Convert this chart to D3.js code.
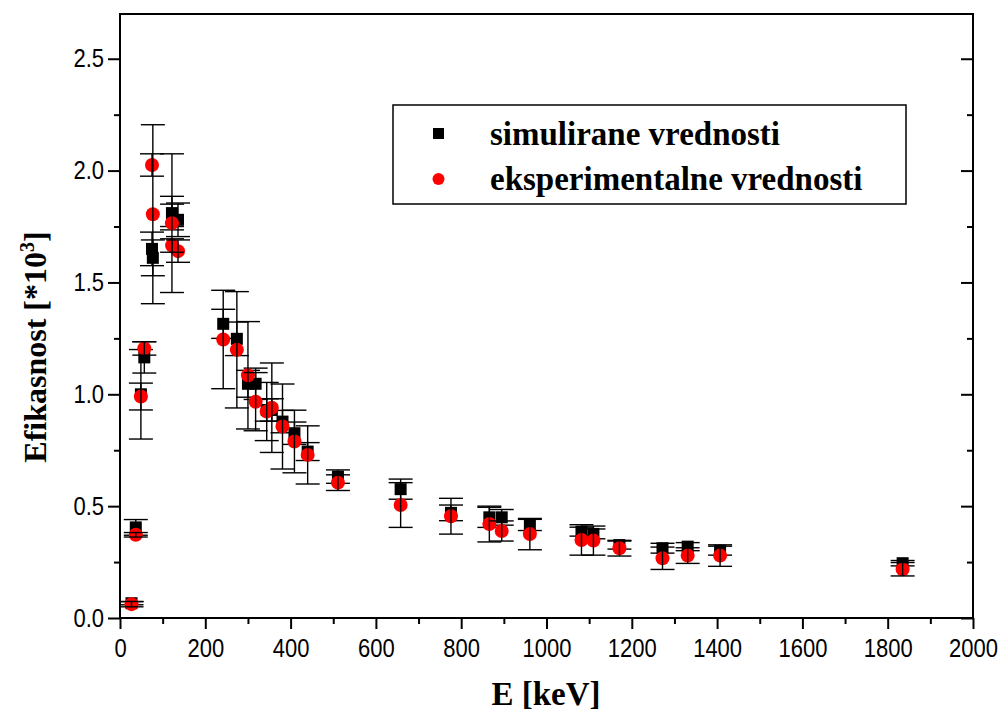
<!DOCTYPE html>
<html>
<head>
<meta charset="utf-8">
<script src="https://cdn.jsdelivr.net/npm/d3@7"></script>
<style>
  html, body { margin: 0; padding: 0; background: #fff; }
  svg { display: block; }
  .tick-label { font-family: "Liberation Sans", Arial, sans-serif; }
  .title { font-family: "Liberation Serif", "Times New Roman", serif; font-weight: bold; }
</style>
</head>
<body>
<svg id="chart" width="1002" height="711"></svg>
<script>
// Gamma line energies (keV)
const energies = [27, 37, 49, 57, 75, 77, 121.8, 122.1, 136, 242, 274, 300, 318, 344, 356,
  381, 409, 440, 511, 658, 776, 866, 895, 961, 1082, 1110, 1171, 1272, 1331, 1407, 1835];

// Simulated efficiency (*10^3) and its uncertainty
const simulated = [0.066, 0.405, 1.00, 1.165, 1.65, 1.61, 1.81, 1.80, 1.78, 1.315, 1.248, 1.047, 1.047,
  0.93, 0.93, 0.878, 0.826, 0.744, 0.632, 0.576, 0.47, 0.45, 0.45, 0.416, 0.386, 0.376, 0.326,
  0.312, 0.319, 0.301, 0.245];
const simulatedErr = [0.007, 0.035, 0.2, 0.07, 0.075, 0.08, 0.075, 0.05, 0.075, 0.065, 0.075, 0.06, 0.07,
  0.05, 0.05, 0.05, 0.05, 0.04, 0.03, 0.045, 0.035, 0.045, 0.035, 0.025, 0.02, 0.022, 0.018,
  0.022, 0.018, 0.02, 0.012];

// Experimental efficiency (*10^3) and its uncertainty
const measured = [0.062, 0.372, 0.99, 1.205, 2.025, 1.805, 1.765, 1.665, 1.64, 1.245, 1.199, 1.085, 0.967,
  0.923, 0.94, 0.856, 0.789, 0.729, 0.605, 0.505, 0.455, 0.42, 0.389, 0.375, 0.349, 0.346, 0.312,
  0.267, 0.279, 0.279, 0.218];
const measuredErr = [0.012, 0.01, 0.06, 0.03, 0.05, 0.4, 0.31, 0.03, 0.05, 0.22, 0.26, 0.24, 0.13,
  0.13, 0.2, 0.19, 0.14, 0.13, 0.035, 0.1, 0.08, 0.08, 0.045, 0.07, 0.068, 0.065, 0.035,
  0.05, 0.035, 0.048, 0.03];

const xMajorTicks = d3.range(0, 2001, 200);
const xMinorTicks = d3.range(100, 2000, 200);
const yMajorTicks = [0, 0.5, 1.0, 1.5, 2.0, 2.5];
const yMinorTicks = [0.25, 0.75, 1.25, 1.75, 2.25];

const seriesNames = ["simulirane vrednosti", "eksperimentalne vrednosti"];

const svg = d3.select("#chart");
const plotLeft = 120, plotRight = 973, plotTop = 14, plotBottom = 618;

const x = d3.scaleLinear().domain([0, 2000]).range([plotLeft, plotRight]);
const y = d3.scaleLinear().domain([0, 2.7]).range([plotBottom, plotTop]);

const plot = svg.append("g");

// Error bars with caps
function drawErrors(vals, errs, cls) {
  const g = plot.append("g").attr("class", cls)
    .attr("stroke", "#000").attr("stroke-width", 1.4).attr("fill", "none");
  const capW = 12;
  energies.forEach((e, i) => {
    const cx = x(e), hi = y(vals[i] + errs[i]), lo = y(vals[i] - errs[i]);
    g.append("line").attr("x1", cx).attr("x2", cx).attr("y1", hi).attr("y2", lo);
    g.append("line").attr("x1", cx - capW).attr("x2", cx + capW).attr("y1", hi).attr("y2", hi);
    g.append("line").attr("x1", cx - capW).attr("x2", cx + capW).attr("y1", lo).attr("y2", lo);
  });
}

// Simulated: black squares
plot.append("g").selectAll("rect").data(energies).join("rect")
  .attr("x", (e) => x(e) - 6)
  .attr("y", (e, i) => y(simulated[i]) - 6)
  .attr("width", 12).attr("height", 12).attr("fill", "#000");
drawErrors(simulated, simulatedErr, "err-sim");

// Experimental: red circles
plot.append("g").selectAll("circle").data(energies).join("circle")
  .attr("cx", (e) => x(e))
  .attr("cy", (e, i) => y(measured[i]))
  .attr("r", 7).attr("fill", "#ff0000");
drawErrors(measured, measuredErr, "err-meas");

// Frame
svg.append("rect").attr("x", plotLeft).attr("y", plotTop)
  .attr("width", plotRight - plotLeft).attr("height", plotBottom - plotTop)
  .attr("fill", "none").attr("stroke", "#000").attr("stroke-width", 2);

// Tick labels use a slightly condensed sans face
const squeeze = 0.88;

// Bottom axis
const xAxis = svg.append("g").attr("transform", `translate(0,${plotBottom})`)
  .call(d3.axisBottom(x).tickValues(xMajorTicks).tickSize(11).tickPadding(10).tickFormat(d3.format("d")));
svg.append("g").attr("transform", `translate(0,${plotBottom})`)
  .call(d3.axisBottom(x).tickValues(xMinorTicks).tickSize(6).tickFormat(""));

// Left axis
const yAxis = svg.append("g").attr("transform", `translate(${plotLeft},0)`)
  .call(d3.axisLeft(y).tickValues(yMajorTicks).tickSize(12).tickPadding(4).tickFormat(d3.format(".1f")));
svg.append("g").attr("transform", `translate(${plotLeft},0)`)
  .call(d3.axisLeft(y).tickValues(yMinorTicks).tickSize(6).tickFormat(""));

// Right axis: inward ticks, no labels
svg.append("g").attr("transform", `translate(${plotRight},0)`)
  .call(d3.axisRight(y).tickValues(yMajorTicks).tickSize(-12).tickFormat(""));
svg.append("g").attr("transform", `translate(${plotRight},0)`)
  .call(d3.axisRight(y).tickValues(yMinorTicks).tickSize(-6).tickFormat(""));

svg.selectAll(".domain").remove();
svg.selectAll(".tick line").attr("stroke", "#000").attr("stroke-width", 2);
svg.selectAll(".tick text").attr("class", "tick-label")
  .attr("fill", "#000").style("font-size", "25px");
xAxis.selectAll(".tick text").attr("transform", `scale(${squeeze},1)`);
yAxis.selectAll(".tick text")
  .attr("x", -16 / squeeze)
  .attr("transform", `scale(${squeeze},1)`);

// Axis titles
svg.append("text").attr("class", "title")
  .attr("x", 546).attr("y", 705).attr("text-anchor", "middle")
  .style("font-size", "33px").text("E [keV]");

const yt = svg.append("text").attr("class", "title")
  .attr("transform", "translate(46,347) rotate(-90)")
  .attr("text-anchor", "middle").style("font-size", "32px");
yt.append("tspan").text("Efikasnost [*10");
yt.append("tspan").attr("dy", -12).style("font-size", "20px").text("3");
yt.append("tspan").attr("dy", 12).text("]");

// Legend
const legend = svg.append("g");
legend.append("rect").attr("x", 393).attr("y", 105).attr("width", 513).attr("height", 99)
  .attr("fill", "#fff").attr("stroke", "#000").attr("stroke-width", 1.5);
legend.append("rect").attr("x", 433).attr("y", 128).attr("width", 11).attr("height", 11).attr("fill", "#000");
legend.append("circle").attr("cx", 438.5).attr("cy", 179).attr("r", 6).attr("fill", "#ff0000");
legend.selectAll("text.lbl").data(seriesNames).join("text").attr("class", "title lbl")
  .attr("x", 490).attr("y", (d, i) => 145 + i * 45)
  .style("font-size", "33px").text((d) => d);
</script>
</body>
</html>
